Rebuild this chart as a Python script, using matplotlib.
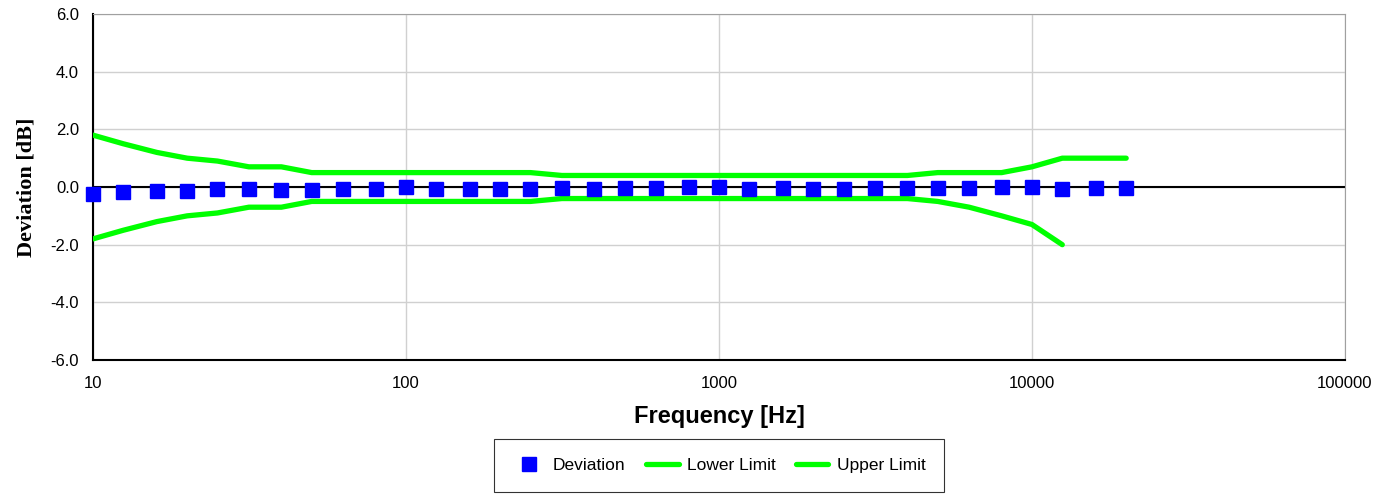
import matplotlib.pyplot as plt
from matplotlib.ticker import FixedLocator, FixedFormatter, NullLocator

# third-octave frequencies [Hz]
freqs = [10, 12.5, 16, 20, 25, 31.5, 40, 50, 63, 80, 100, 125, 160, 200, 250, 315,
         400, 500, 630, 800, 1000, 1250, 1600, 2000, 2500, 3150, 4000, 5000, 6300,
         8000, 10000, 12500, 16000, 20000]

deviation = [-0.24, -0.18, -0.15, -0.15, -0.08, -0.08, -0.11, -0.11, -0.08, -0.08,
             -0.01, -0.08, -0.08, -0.08, -0.08, -0.05, -0.08, -0.05, -0.05, -0.01,
             -0.01, -0.08, -0.05, -0.08, -0.08, -0.05, -0.05, -0.05, -0.05, -0.01,
             -0.01, -0.08, -0.05, -0.05]

upper = [1.8, 1.5, 1.2, 1.0, 0.9, 0.7, 0.7, 0.5, 0.5, 0.5, 0.5, 0.5, 0.5, 0.5, 0.5,
         0.4, 0.4, 0.4, 0.4, 0.4, 0.4, 0.4, 0.4, 0.4, 0.4, 0.4, 0.4, 0.5, 0.5, 0.5,
         0.7, 1.0, 1.0, 1.0]

lower_freqs = freqs[:32]
lower = [-1.8, -1.5, -1.2, -1.0, -0.9, -0.7, -0.7, -0.5, -0.5, -0.5, -0.5, -0.5, -0.5,
         -0.5, -0.5, -0.4, -0.4, -0.4, -0.4, -0.4, -0.4, -0.4, -0.4, -0.4, -0.4, -0.4,
         -0.4, -0.5, -0.7, -1.0, -1.3, -2.0]

xticks = [10, 100, 1000, 10000, 100000]
xtick_labels = ['10', '100', '1000', '10000', '100000']
yticks = [-6, -4, -2, 0, 2, 4, 6]

plt.rcParams['font.family'] = ['Liberation Sans', 'DejaVu Sans']

fig = plt.figure(figsize=(13.87, 4.95), dpi=100)
ax = fig.add_axes([0.067, 0.2727, 0.9027, 0.699])

ax.axhline(0, color='black', lw=1.5, zorder=2)
ax.plot(lower_freqs, lower, color='#00ff00', lw=3.8, solid_capstyle='round',
        label='Lower Limit', zorder=3)
ax.plot(freqs, upper, color='#00ff00', lw=3.8, solid_capstyle='round',
        label='Upper Limit', zorder=3)
ax.plot(freqs, deviation, 's', color='#0000ff', markersize=10, ls='none',
        label='Deviation', zorder=4, clip_on=False)

ax.set_xscale('log')
ax.set_xlim(10, 100000)
ax.set_ylim(-6, 6)
ax.xaxis.set_major_locator(FixedLocator(xticks))
ax.xaxis.set_major_formatter(FixedFormatter(xtick_labels))
ax.xaxis.set_minor_locator(NullLocator())
ax.set_yticks(yticks)
ax.set_yticklabels(['%.1f' % v for v in yticks])
ax.tick_params(axis='x', length=0, labelsize=12, pad=11.5)
ax.tick_params(axis='y', length=0, labelsize=12, pad=10)
ax.grid(True, color='#d0d0d0', lw=1)
ax.set_axisbelow(True)

for s in ['top', 'right']:
    ax.spines[s].set_color('#a0a0a0')
for s in ['left', 'bottom']:
    ax.spines[s].set_color('black')
    ax.spines[s].set_linewidth(1.5)

ax.set_xlabel('Frequency [Hz]', fontsize=17, fontweight='bold', labelpad=10)
ax.set_ylabel('Deviation [dB]', fontsize=16, fontweight='bold',
              family='Liberation Serif', labelpad=10)

handles, labels = ax.get_legend_handles_labels()
order = [2, 0, 1]
leg = fig.legend([handles[i] for i in order], [labels[i] for i in order],
                 loc='center', bbox_to_anchor=(0.5184, 0.059), ncol=3,
                 frameon=True, fancybox=False, edgecolor='black', fontsize=12.5,
                 handlelength=1.85, handletextpad=0.47, columnspacing=1.2,
                 borderpad=1.1, borderaxespad=0)
leg.get_frame().set_linewidth(0.8)

fig.savefig('out.png', dpi=100)
